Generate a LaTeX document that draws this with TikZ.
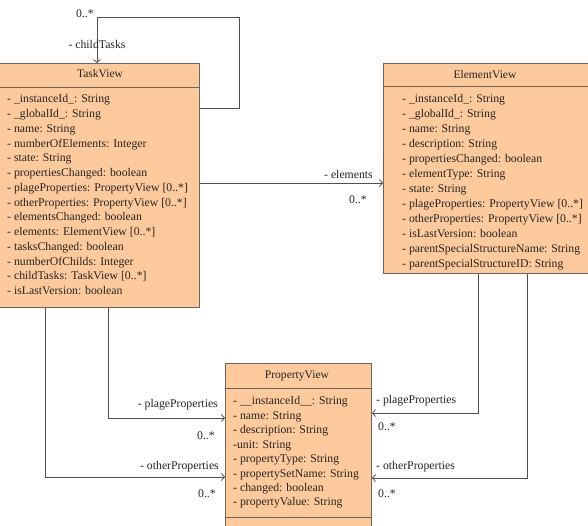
\documentclass[tikz,border=0pt]{standalone}
\usepackage{fontspec}
\setmainfont{Liberation Serif}
\usetikzlibrary{arrows.meta}
\definecolor{boxfill}{RGB}{253,202,158}
\definecolor{boxdraw}{RGB}{115,100,90}
\definecolor{linecol}{RGB}{80,80,80}
\definecolor{txt}{RGB}{40,35,30}
\begin{document}
\begin{tikzpicture}[x=1bp,y=-1bp,
  classbox/.style={draw=boxdraw,fill=boxfill,line width=1bp,anchor=north west,inner sep=0pt},
  sepline/.style={draw=boxdraw,line width=0.9bp},
  attr/.style={anchor=west,inner sep=0pt,text height=8bp,text depth=2.5bp,text=txt,font=\fontsize{11.8}{13}\selectfont},
  head/.style={inner sep=0pt,text=txt,font=\fontsize{11.6}{13}\selectfont},
  lbl/.style={inner sep=0pt,text=txt,font=\fontsize{11.8}{13}\selectfont},
  assoc/.style={draw=linecol,line width=0.8bp,-{Straight Barb[length=3bp,width=7bp]}}]
\useasboundingbox (0,0) rectangle (588,526);
% ---------- TaskView ----------
\node[classbox,minimum width=200bp,minimum height=244bp] (task) at (-1,63) {};
\draw[sepline] (task.west |- 0,87) -- (task.east |- 0,87);
\node[head] (taskh) at (100,74) {TaskView};
\foreach \t [count=\i] in {
  {- \_instanceId\_: String},
  {- \_globalId\_: String},
  {- name: String},
  {- numberOfElements: Integer},
  {- state: String},
  {- propertiesChanged: boolean},
  {- plageProperties: PropertyView [0..*]},
  {- otherProperties: PropertyView [0..*]},
  {- elementsChanged: boolean},
  {- elements: ElementView [0..*]},
  {- tasksChanged: boolean},
  {- numberOfChilds: Integer},
  {- childTasks: TaskView [0..*]},
  {- isLastVersion: boolean}}
  \node[attr] (ta\i) at (7,{100+14.77*(\i-1)}) {\t};
% ---------- ElementView ----------
\node[classbox,minimum width=207bp,minimum height=210bp] (elem) at (383,63) {};
\draw[sepline] (elem.west |- 0,86) -- (elem.east |- 0,86);
\node[head] (elemh) at (485,75) {ElementView};
\foreach \t [count=\i] in {
  {- \_instanceId\_: String},
  {- \_globalId\_: String},
  {- name: String},
  {- description: String},
  {- propertiesChanged: boolean},
  {- elementType: String},
  {- state: String},
  {- plageProperties: PropertyView [0..*]},
  {- otherProperties: PropertyView [0..*]},
  {- isLastVersion: boolean},
  {- parentSpecialStructureName: String},
  {- parentSpecialStructureID: String}}
  \node[attr] (ea\i) at (402,{100+15*(\i-1)}) {\t};
% ---------- PropertyView ----------
\node[classbox,minimum width=146bp,minimum height=175bp] (prop) at (225,363) {};
\draw[sepline] (prop.west |- 0,388) -- (prop.east |- 0,388);
\draw[sepline] (prop.west |- 0,517) -- (prop.east |- 0,517);
\node[head] (proph) at (297,376) {PropertyView};
\foreach \t [count=\i] in {
  {- \_\_instanceId\_\_: String},
  {- name: String},
  {- description: String},
  {-unit: String},
  {- propertyType: String},
  {- propertySetName: String},
  {- changed: boolean},
  {- propertyValue: String}}
  \node[attr] (pa\i) at (233,{402+14.45*(\i-1)}) {\t};
% ---------- connectors ----------
\coordinate (loop) at (239,17);
\draw[assoc] (task.east |- 0,108) -| (loop) -| (task.north -| 97,0);
\node[lbl,anchor=east] (m1) at (94,14) {0..*};
\node[lbl] (r1) at (97,44) {- childTasks};

\draw[assoc] (task.east |- 0,183) -- (elem.west |- 0,183);
\node[lbl,anchor=east] (r2) at (373,174) {- elements};
\node[lbl,anchor=east] (m2) at (367,200) {0..*};

\draw[assoc] (task.south -| 108,0) |- (prop.west |- 0,418);
\node[lbl,anchor=east] (r3) at (218,405) {- plageProperties};
\node[lbl,anchor=east] (m3) at (215,436) {0..*};

\draw[assoc] (task.south -| 45,0) |- (prop.west |- 0,477);
\node[lbl,anchor=east] (r4) at (219,467) {- otherProperties};
\node[lbl,anchor=east] (m4) at (216,494) {0..*};

\draw[assoc] (elem.south -| 478,0) |- (prop.east |- 0,413);
\node[lbl,anchor=west] (r5) at (376,401) {- plageProperties};
\node[lbl,anchor=west] (m5) at (378,427) {0..*};

\draw[assoc] (elem.south -| 527,0) |- (prop.east |- 0,478);
\node[lbl,anchor=west] (r6) at (376,467) {- otherProperties};
\node[lbl,anchor=west] (m6) at (378,494) {0..*};
\end{tikzpicture}
\end{document}
